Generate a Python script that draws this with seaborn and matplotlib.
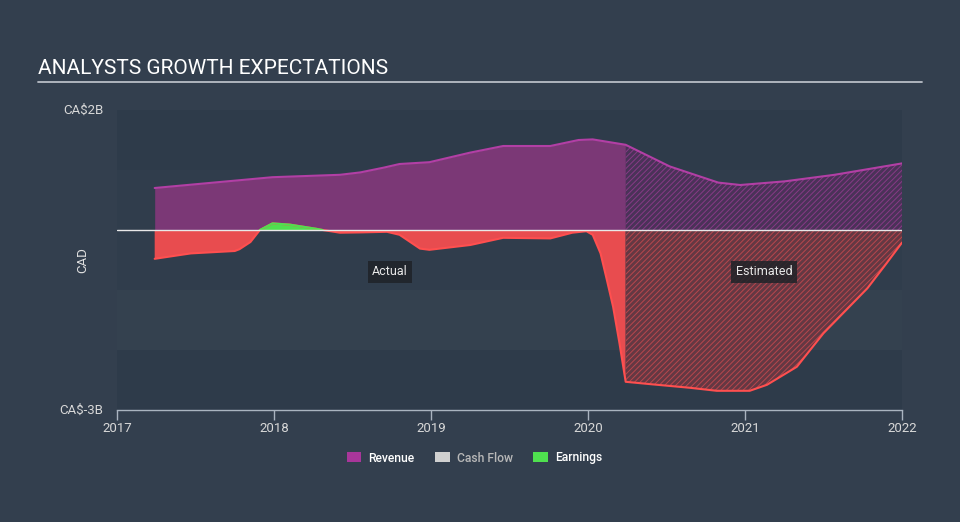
import numpy as np
import pandas as pd
import matplotlib
matplotlib.use("Agg")
import matplotlib.pyplot as plt
from matplotlib.patches import Patch
import seaborn as sns

# ---- data (CAD billions) ----
rev_years = [2017.24, 2017.99, 2018.42, 2018.55, 2018.70, 2018.80, 2018.99, 2019.25, 2019.46,
             2019.76, 2019.94, 2020.03, 2020.24, 2020.52, 2020.83, 2020.97, 2021.25, 2021.57,
             2022.0]
rev_vals = [0.70, 0.88, 0.92, 0.96, 1.04, 1.10, 1.13, 1.29, 1.40,
            1.40, 1.50, 1.51, 1.42, 1.06, 0.79, 0.75, 0.81, 0.92,
            1.11]

earn_years = [2017.24, 2017.47, 2017.75, 2017.78, 2017.85, 2017.91, 2017.99, 2018.10, 2018.27,
              2018.31, 2018.42, 2018.55, 2018.72, 2018.80, 2018.93, 2018.99, 2019.25, 2019.46,
              2019.76, 2019.90, 2019.99, 2020.03, 2020.08, 2020.12, 2020.16, 2020.20, 2020.24,
              2020.40, 2020.65, 2020.82, 2021.03, 2021.14, 2021.33, 2021.50, 2021.78, 2021.90,
              2022.0]
earn_vals = [-0.48, -0.39, -0.35, -0.32, -0.20, 0.0, 0.11, 0.09, 0.02,
             0.0, -0.045, -0.04, -0.03, -0.08, -0.31, -0.33, -0.25, -0.13,
             -0.14, -0.045, -0.02, -0.08, -0.39, -0.83, -1.28, -1.88, -2.53,
             -2.57, -2.63, -2.68, -2.68, -2.58, -2.28, -1.72, -0.97, -0.56,
             -0.21]

split_year = 2020.24
year_ticks = [2017, 2018, 2019, 2020, 2021, 2022]
y_ticks = [-3, 2]
y_tick_labels = ["CA\\$-3B", "CA\\$2B"]
legend_labels = ["Revenue", "Cash Flow", "Earnings"]

BG = "#333f4e"
REV_LINE = "#b23fa5"
REV_FILL = "#7b3876"
EARN_LINE = "#ff4f4f"
EARN_FILL = "#e84c4f"
GREEN = "#4fe04f"

sns.set_style("dark")
plt.rcParams["font.family"] = ["Roboto", "DejaVu Sans"]
plt.rcParams["hatch.linewidth"] = 0.7

fig = plt.figure(figsize=(9.6, 5.22), dpi=100, facecolor=BG)
ax = fig.add_axes([117/960, 1-410/522, (902-117)/960, 300/522])
ax.set_facecolor(BG)

# background bands
bands = [(1, 2, "#2e3b4a"), (0, 1, "#303d4c"), (-1, 0, "#303d4c"), (-2, -1, "#34414f"), (-3, -2, "#2e3b4a")]
for lo, hi, c in bands:
    ax.axhspan(lo, hi, color=c, lw=0, zorder=0)

rev = pd.DataFrame({"year": rev_years, "value": rev_vals})
earn = pd.DataFrame({"year": earn_years, "value": earn_vals})

xr = rev["year"].to_numpy()
yr = rev["value"].to_numpy()
xe = earn["year"].to_numpy()
ye = earn["value"].to_numpy()

act_r = xr <= split_year
est_r = xr >= split_year
act_e = xe <= split_year
est_e = xe >= split_year

# revenue
ax.fill_between(xr, 0, yr, where=act_r, color=REV_FILL, lw=0, zorder=2)
ax.fill_between(xr, 0, yr, where=est_r, facecolor="#4a3258", edgecolor="#873a86",
                hatch="//////", lw=0, zorder=2)
# earnings
ax.fill_between(xe, 0, ye, where=act_e & (ye <= 0), color=EARN_FILL, lw=0, zorder=2, interpolate=True)
ax.fill_between(xe, 0, ye, where=act_e & (ye >= 0), color=GREEN, lw=0, zorder=2, interpolate=True)
ax.fill_between(xe, 0, ye, where=est_e, facecolor="#643843", edgecolor="#b8474d",
                hatch="//////", lw=0, zorder=2)

sns.lineplot(data=rev, x="year", y="value", ax=ax, color=REV_LINE, lw=1.5, zorder=3)
sns.lineplot(data=earn, x="year", y="value", ax=ax, color=EARN_LINE, lw=1.5, zorder=3)
posmask = (xe >= 2017.91) & (xe <= 2018.31)
ax.plot(xe[posmask], ye[posmask], color=GREEN, lw=1.5, zorder=4)

ax.axhline(0, color="#e8e8e8", lw=1.0, zorder=5)

ax.set_xlim(2017, 2022)
ax.set_ylim(-3, 2)
ax.set_xticks(year_ticks)
ax.set_xticklabels([str(y) for y in year_ticks], color="#d8d8d8", fontsize=9.5)
ax.set_yticks(y_ticks)
ax.set_yticklabels(y_tick_labels, color="#d8d8d8", fontsize=9.5)
ax.tick_params(axis="x", length=7, width=1, color="#aab4c0", pad=2, direction="out", bottom=True)
ax.tick_params(axis="y", length=0, pad=10)
ax.set_xlabel("")
ax.set_ylabel("CAD", color="#e0e0e0", fontsize=9.5)
ax.yaxis.set_label_coords((89-117)/785, 0.5)
for s in ["top", "right", "left"]:
    ax.spines[s].set_visible(False)
ax.spines["bottom"].set_color("#aab4c0")
ax.spines["bottom"].set_linewidth(1)
ax.grid(False)

for lbl in ax.get_yticklabels():
    lbl.set_verticalalignment("center")

box = dict(boxstyle="square,pad=0.35", fc="#1f2328", ec="none", alpha=0.85)
ax.text(2018.74, -0.7, "Actual", color="#e8e8e8", fontsize=9, ha="center", va="center", bbox=box, zorder=6)
ax.text(2021.12, -0.7, "Estimated", color="#e8e8e8", fontsize=9, ha="center", va="center", bbox=box, zorder=6)

# title
fig.text(38/960, 1-68/522, "ANALYSTS GROWTH EXPECTATIONS", color="#ffffff", fontsize=15.0,
         ha="left", va="center")
fig.add_artist(plt.Line2D([38/960, 922/960], [1-82/522, 1-82/522], color="#b8bec6", lw=1.3))

handles = [Patch(facecolor="#a8369a", edgecolor="none"),
           Patch(facecolor="#d0d0d0", edgecolor="none"),
           Patch(facecolor=GREEN, edgecolor="none")]
leg = fig.legend(handles, legend_labels, loc="center", bbox_to_anchor=(474.5/960, 1-458/522), ncol=3,
                 frameon=False, fontsize=8.7, handlelength=1.2, handleheight=0.9, columnspacing=1.7,
                 handletextpad=0.6)
for t, c in zip(leg.get_texts(), ["#ffffff", "#b8b8b8", "#ffffff"]):
    t.set_color(c)
    t.set_fontweight("medium")

fig.savefig("out.png", dpi=100, facecolor=BG)
